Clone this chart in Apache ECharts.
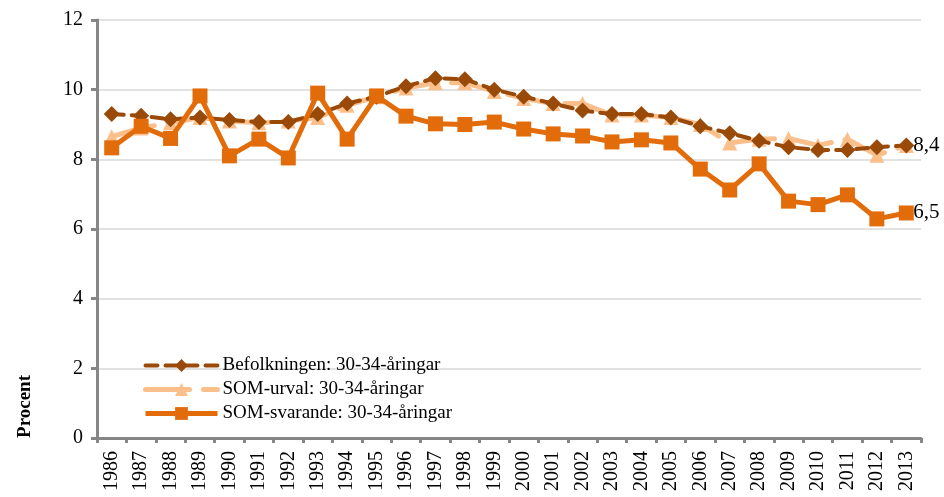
<!DOCTYPE html>
<html>
<head>
<meta charset="utf-8">
<script src="https://cdn.jsdelivr.net/npm/echarts@6/dist/echarts.min.js"></script>
<style>
    html, body { margin: 0; padding: 0; background: #fff; }
    #main { width: 944px; height: 497px; }
</style>
</head>
<body>
<div id="main"></div>
<script>
    // data
    var years = ['1986','1987','1988','1989','1990','1991','1992','1993','1994','1995','1996','1997','1998','1999',
                 '2000','2001','2002','2003','2004','2005','2006','2007','2008','2009','2010','2011','2012','2013'];
    var befolkningen = [9.3, 9.25, 9.15, 9.2, 9.13, 9.07, 9.07, 9.3, 9.6, 9.8, 10.1, 10.33, 10.3, 10.0,
                        9.8, 9.6, 9.4, 9.3, 9.3, 9.2, 8.95, 8.75, 8.53, 8.35, 8.27, 8.27, 8.35, 8.4];
    var urval = [8.65, 8.9, 9.05, 9.2, 9.1, 9.05, 9.1, 9.2, 9.55, 9.8, 10.05, 10.2, 10.2, 9.95,
                 9.75, 9.6, 9.6, 9.27, 9.27, 9.2, 9.0, 8.47, 8.58, 8.6, 8.4, 8.58, 8.12, 8.4];
    var svarande = [8.33, 8.95, 8.6, 9.82, 8.1, 8.58, 8.04, 9.9, 8.58, 9.82, 9.24, 9.02, 9.0, 9.07,
                    8.87, 8.73, 8.67, 8.5, 8.56, 8.47, 7.72, 7.12, 7.87, 6.8, 6.7, 6.98, 6.29, 6.46];
    var yTicks = [0, 2, 4, 6, 8, 10, 12];
    var seriesNames = ['Befolkningen: 30-34-åringar', 'SOM-urval: 30-34-åringar', 'SOM-svarande: 30-34-åringar'];

    var font = '"Liberation Serif", "DejaVu Serif", serif';
    var chart = echarts.init(document.getElementById('main'));

    function endLabel(txt) {
        return {
            show: true,
            formatter: txt,
            color: '#000',
            fontFamily: font,
            fontSize: 21,
            distance: 7
        };
    }

    var option = {
        animation: false,
        grid: { left: 97, right: 23, top: 20, bottom: 59 },
        legend: {
            orient: 'vertical',
            left: 138,
            top: 351,
            itemWidth: 72,
            itemHeight: 16,
            itemGap: 5,
            textStyle: { fontFamily: font, fontSize: 19, color: '#000' },
            data: [
                { name: seriesNames[0], lineStyle: { width: 4, type: [12, 8], cap: 'round' } },
                { name: seriesNames[1], lineStyle: { width: 5, type: [44, 14], cap: 'round' } },
                { name: seriesNames[2], lineStyle: { width: 5 } }
            ]
        },
        graphic: [{
            type: 'text',
            left: 16,
            top: 375,
            rotation: Math.PI / 2,
            style: { text: 'Procent', font: 'bold 19px ' + font, fill: '#000' }
        }],
        xAxis: {
            type: 'category',
            data: years,
            boundaryGap: true,
            axisLine: { lineStyle: { color: '#868686', width: 3 } },
            axisTick: { show: true, length: 5, lineStyle: { color: '#868686', width: 3 } },
            axisLabel: { rotate: 90, interval: 0, color: '#000', fontFamily: font, fontSize: 20, margin: 13 }
        },
        yAxis: {
            type: 'value',
            min: yTicks[0],
            max: yTicks[yTicks.length - 1],
            interval: 2,
            axisLine: { show: true, lineStyle: { color: '#868686', width: 3 } },
            axisTick: { show: true, length: 6, lineStyle: { color: '#868686', width: 3 } },
            splitLine: { lineStyle: { color: '#D9D9D9', width: 1.5 } },
            axisLabel: { color: '#000', fontFamily: font, fontSize: 20, margin: 14 }
        },
        series: [
            {
                name: seriesNames[0],
                type: 'line',
                data: befolkningen,
                symbol: 'diamond',
                symbolSize: 16,
                z: 3,
                color: '#9A4A08',
                lineStyle: { color: '#9A4A08', width: 4, type: [12, 8], cap: 'round' },
                itemStyle: { color: '#9A4A08' },
                endLabel: endLabel('8,4')
            },
            {
                name: seriesNames[1],
                type: 'line',
                data: urval,
                symbol: 'triangle',
                symbolSize: 15,
                z: 2,
                color: '#FBBF8C',
                lineStyle: { color: '#FBBF8C', width: 5, type: [44, 14], cap: 'round' },
                itemStyle: { color: '#FBBF8C' }
            },
            {
                name: seriesNames[2],
                type: 'line',
                data: svarande,
                symbol: 'rect',
                symbolSize: 15,
                z: 4,
                color: '#E36C0A',
                lineStyle: { color: '#E36C0A', width: 5 },
                itemStyle: { color: '#E36C0A' },
                endLabel: endLabel('6,5')
            }
        ]
    };
    chart.setOption(option);
</script>
</body>
</html>
